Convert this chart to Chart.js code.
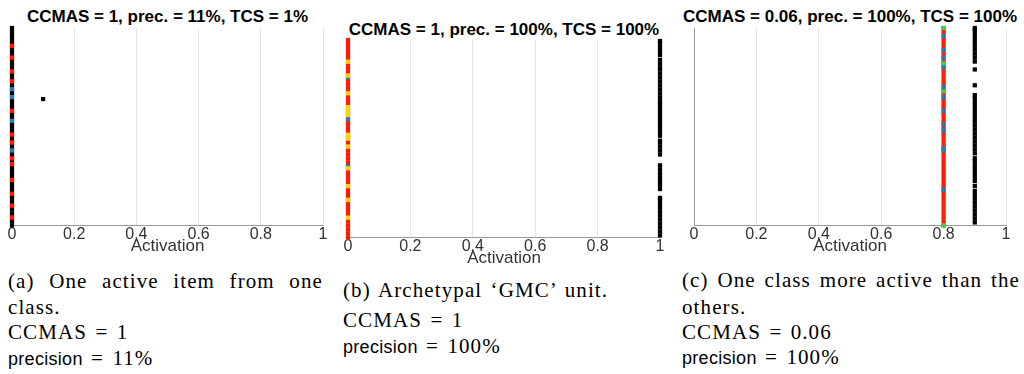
<!DOCTYPE html>
<html lang="en">
<head>
<meta charset="UTF-8">
<title>Activation scatter</title>
<script src="https://cdn.jsdelivr.net/npm/chart.js"></script>
<style>
    body {
        margin: 0;
        background: #fff;
        width: 1024px;
        height: 374px;
        position: relative;
        overflow: hidden;
    }
    canvas { position: absolute; }
    .ttl {
        position: absolute;
        font-family: "Liberation Sans", Arial, sans-serif;
        font-weight: bold;
        font-size: 17px;
        line-height: 20px;
        text-align: center;
        white-space: nowrap;
        color: #000;
    }
    .cap {
        position: absolute;
        font-family: "Liberation Serif", "Times New Roman", serif;
        font-size: 21px;
        letter-spacing: 1.1px;
        word-spacing: 2px;
        line-height: 24px;
        color: #000;
        white-space: nowrap;
    }
    .just { text-align: justify; text-align-last: justify; white-space: normal; word-spacing: 0; }
    .sf { font-family: "Liberation Sans", Arial, sans-serif; font-size: 18px; letter-spacing: 0.3px; }
</style>
</head>
<body>
<div class="ttl" style="left:0;top:7px;width:335px">CCMAS = 1, prec. = 11%, TCS = 1%</div>
<div class="ttl" style="left:335px;top:20px;width:338px">CCMAS = 1, prec. = 100%, TCS = 100%</div>
<div class="ttl" style="left:676px;top:7px;width:348px">CCMAS = 0.06, prec. = 100%, TCS = 100%</div>

<canvas id="chartA" width="335" height="257" style="left:0;top:0"></canvas>
<canvas id="chartB" width="338" height="257" style="left:335px;top:12px"></canvas>
<canvas id="chartC" width="348" height="257" style="left:676px;top:0"></canvas>

<div class="cap just" style="left:8px;top:269px;width:315px">(a) One active item from one</div>
<div class="cap" style="left:8px;top:295px">class.</div>
<div class="cap" style="left:8px;top:320px">CCMAS = 1</div>
<div class="cap" style="left:8px;top:346px"><span class="sf">precision</span> = 11%</div>

<div class="cap" style="left:343px;top:278px">(b) Archetypal ‘GMC’ unit.</div>
<div class="cap" style="left:343px;top:308px">CCMAS = 1</div>
<div class="cap" style="left:343px;top:334px"><span class="sf">precision</span> = 100%</div>

<div class="cap just" style="left:682px;top:268px;width:338px">(c) One class more active than the</div>
<div class="cap" style="left:682px;top:295px">others.</div>
<div class="cap" style="left:682px;top:320px">CCMAS = 0.06</div>
<div class="cap" style="left:682px;top:345px"><span class="sf">precision</span> = 100%</div>

<script>
    const xTicks = [0, 0.2, 0.4, 0.6, 0.8, 1];

    // (a) one active item from one class - everything sits at 0 except one item
    const aColX = 0;
    const aBlackY = [0,2,4,6,8,10,12,14,16,18,20,22,24,26,28,30,32,34,36,38,40,42,44,46,48,50,52,54,56,58,60,62,64,66,68,70,72,74,76,78,80,82,84,86,88,90,92,94,96,98,100];
    const aRedY = [4,10,16,23,31,34,42,46,58,73,78,85,91];
    const aBlueY = [38,53,65,69];
    const aLoneX = 0.1;
    const aLoneY = [64];

    // (b) archetypal GMC unit - others at 0, target class at 1
    const bColX = 0;
    const bTargetX = 1;
    const bRedY = [0,2,4,6,8,10,12,14,16,18,20,22,24,26,28,30,32,34,36,38,40,42,44,46,48,50,52,54,56,58,60,62,64,66,68,70,72,74,76,78,80,82,84,86,88,90,92,94,96,98,100];
    const bYellowY = [10,19,26,35,46,50,52,62,64,66,73,82,89];
    const bBlueY = [36,60,81];
    const bBlackY = [1,3,5,7,9,11,13,15,17,19,20, 24.5,26.5,28.5,30.5,32.5,34.5,36.5, 42,44,46,48,49,
        51.5,53.5,55.5,57.5,59.5,61.5,63.5,65.5, 67.5,69, 71,73,75,77,79,81,83, 85,86, 88,90, 92.5,94.5,96.5,98.5,99.5];

    // (c) one class more active than the others
    const cColX = 0.8;
    const cTargetX = 0.9;
    const cRedY = [0,2,4,6,8,10,12,14,16,18,20,22,24,26,28,30,32,34,36,38,40,42,44,46,48,50,52,54,56,58,60,62,64,66,68,70,72,74,76,78,80,82,84,86,88,90,92,94,96,98,100];
    const cBlueY = [18,38,39,48,51,58,65,70,80,85,89,96];
    const cGreenY = [0,68,82,100];
    const cBlackY = [1.5,3.5,5.5,7.5,9.5,11.5,13.5,15.5,17.5,20, 22.5,24.5,26.5,28.5,30.5,32.5,34,
        36.5,38.5,40.5,42.5,44.5,46.5,48.5,50.5,52.5,54.5,56.5,58.5,60.5,62.5,64.5,66, 71, 79,
        83,85,87,89,91,93,95,97,99,100];

    const BLACK = '#000000';
    const RED = '#ff1a00';
    const BLUE = '#2b7bba';
    const YELLOW = '#ffd400';
    const GREEN = '#3fd23f';

    const pts = (x, ys) => ys.map(y => ({ x: x, y: y }));

    function set(x, ys, color, order) {
        return {
            data: pts(x, ys),
            backgroundColor: color,
            order: order,
            clip: false
        };
    }

    function makeChart(id, padLeft, padRight, datasets) {
        return new Chart(document.getElementById(id), {
            type: 'scatter',
            data: { datasets: datasets },
            options: {
                responsive: false,
                animation: false,
                devicePixelRatio: 1,
                events: [],
                layout: { padding: { left: padLeft, right: padRight, top: 28, bottom: 0 } },
                plugins: {
                    legend: { display: false },
                    tooltip: { enabled: false }
                },
                elements: {
                    point: { pointStyle: 'rect', radius: 3, borderWidth: 0 }
                },
                scales: {
                    x: {
                        type: 'linear',
                        min: 0,
                        max: 1,
                        afterBuildTicks: s => { s.ticks = xTicks.map(v => ({ value: v })); },
                        ticks: {
                            callback: v => String(v),
                            font: { family: 'Liberation Sans', size: 16 },
                            color: '#333',
                            padding: 0,
                            maxRotation: 0,
                            autoSkip: false
                        },
                        grid: { color: '#e6e6e6', drawTicks: false },
                        border: { color: '#999' },
                        title: {
                            display: true,
                            text: 'Activation',
                            font: { family: 'Liberation Sans', size: 17 },
                            color: '#333',
                            padding: { top: -8, bottom: 0 }
                        }
                    },
                    y: {
                        min: 0,
                        max: 100,
                        afterFit: s => { s.width = 0; },
                        ticks: { display: false },
                        grid: { display: false },
                        border: { color: '#999' }
                    }
                }
            }
        });
    }

    makeChart('chartA', 12, 12, [
        set(aColX, aRedY, RED, 1),
        set(aColX, aBlueY, BLUE, 1),
        set(aColX, aBlackY, BLACK, 2),
        set(aLoneX, aLoneY, BLACK, 2)
    ]);

    makeChart('chartB', 13, 13, [
        set(bColX, bYellowY, YELLOW, 1),
        set(bColX, bBlueY, BLUE, 1),
        set(bColX, bRedY, RED, 2),
        set(bTargetX, bBlackY, BLACK, 2)
    ]);

    makeChart('chartC', 18, 18, [
        set(cColX, cBlueY, BLUE, 1),
        set(cColX, cGreenY, GREEN, 1),
        set(cColX, cRedY, RED, 2),
        set(cTargetX, cBlackY, BLACK, 2)
    ]);
</script>
</body>
</html>
